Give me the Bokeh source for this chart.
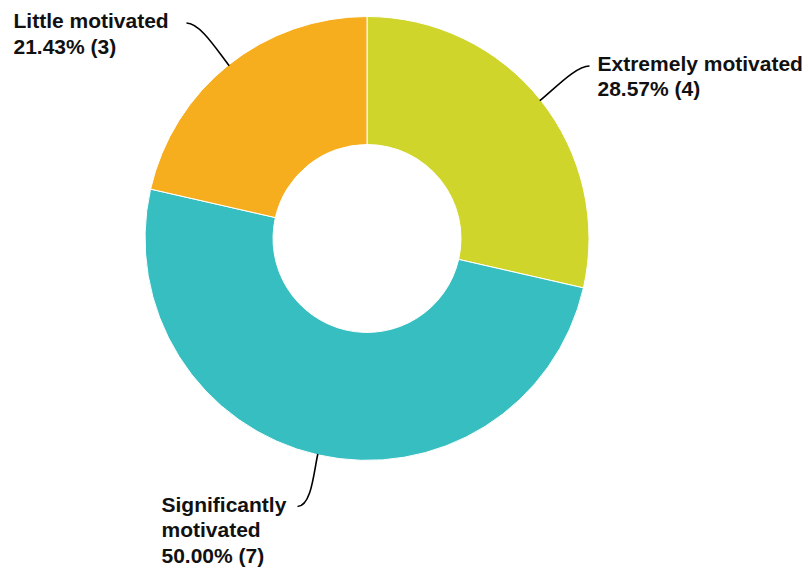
import math
from bokeh.plotting import figure
from bokeh.models import Range1d, ColumnDataSource
from bokeh.core.properties import value
from bokeh.embed import file_html
from bokeh.resources import INLINE

# ---- data ----
categories = ["Extremely motivated", "Significantly motivated", "Little motivated"]
counts = [4, 7, 3]
label_texts = ["Extremely motivated", "Significantly\nmotivated", "Little motivated"]
colors = ["#cfd52b", "#37bec0", "#f6ae1f"]

# ---- layout ----
W, H = 804, 572
cx, cy = 366.5, H - 238          # donut centre (data units == pixels)
r_out, r_in = 222, 94
# label anchor (end of leader line) and text top-left, in canvas pixels (y down)
line_ends = [(589, 65.5), (297, 506), (186, 22.5)]
text_pos = [(597, 51), (161, 492), (13, 8.5)]

total = sum(counts)
p = figure(width=W, height=H, x_range=Range1d(0, W), y_range=Range1d(0, H),
           x_axis_type=None, y_axis_type=None, toolbar_location=None,
           output_backend="svg", min_border=0, outline_line_color=None)
p.grid.visible = False

starts, ends, mids = [], [], []
acc = 0.0
for c in counts:
    a0 = acc / total * 2 * math.pi
    acc += c
    a1 = acc / total * 2 * math.pi
    # clockwise-from-top angles -> bokeh angles (ccw from +x)
    starts.append(math.pi / 2 - a0)
    ends.append(math.pi / 2 - a1)
    mids.append((a0 + a1) / 2)

src = ColumnDataSource(dict(start=starts, end=ends, color=colors,
                            x=[cx] * 3, y=[cy] * 3))
p.annular_wedge(x="x", y="y", inner_radius=r_in, outer_radius=r_out,
                start_angle="start", end_angle="end", direction="clock",
                fill_color="color", line_color="white", line_width=1, source=src)

# leader lines
x0s, y0s, x1s, y1s, c0x, c0y, c1x, c1y = [], [], [], [], [], [], [], []
for i, m in enumerate(mids):
    dx, dy = math.sin(m), math.cos(m)
    sx, sy = cx + (r_out - 1) * dx, cy + (r_out - 1) * dy
    ex, ey = line_ends[i][0], H - line_ends[i][1]
    x0s.append(sx); y0s.append(sy); x1s.append(ex); y1s.append(ey)
    c0x.append(sx + 18 * dx); c0y.append(sy + 18 * dy)
    side = 1 if ex > sx else -1
    c1x.append(ex - side * 14); c1y.append(ey)
p.bezier(x0=x0s, y0=y0s, x1=x1s, y1=y1s, cx0=c0x, cy0=c0y, cx1=c1x, cy1=c1y,
         line_color="black", line_width=1.6)

texts = []
for i, c in enumerate(counts):
    pct = c / total * 100
    texts.append(f"{label_texts[i]}\n{pct:.2f}% ({c})")
p.text(x=[t[0] for t in text_pos], y=[H - t[1] for t in text_pos], text=texts,
       text_font=value("Liberation Sans"), text_font_style="bold",
       text_font_size="21px", text_color="#111111", text_align="left",
       text_baseline="top", text_line_height=1.12)

open("out.html", "w").write(file_html(p, INLINE))
